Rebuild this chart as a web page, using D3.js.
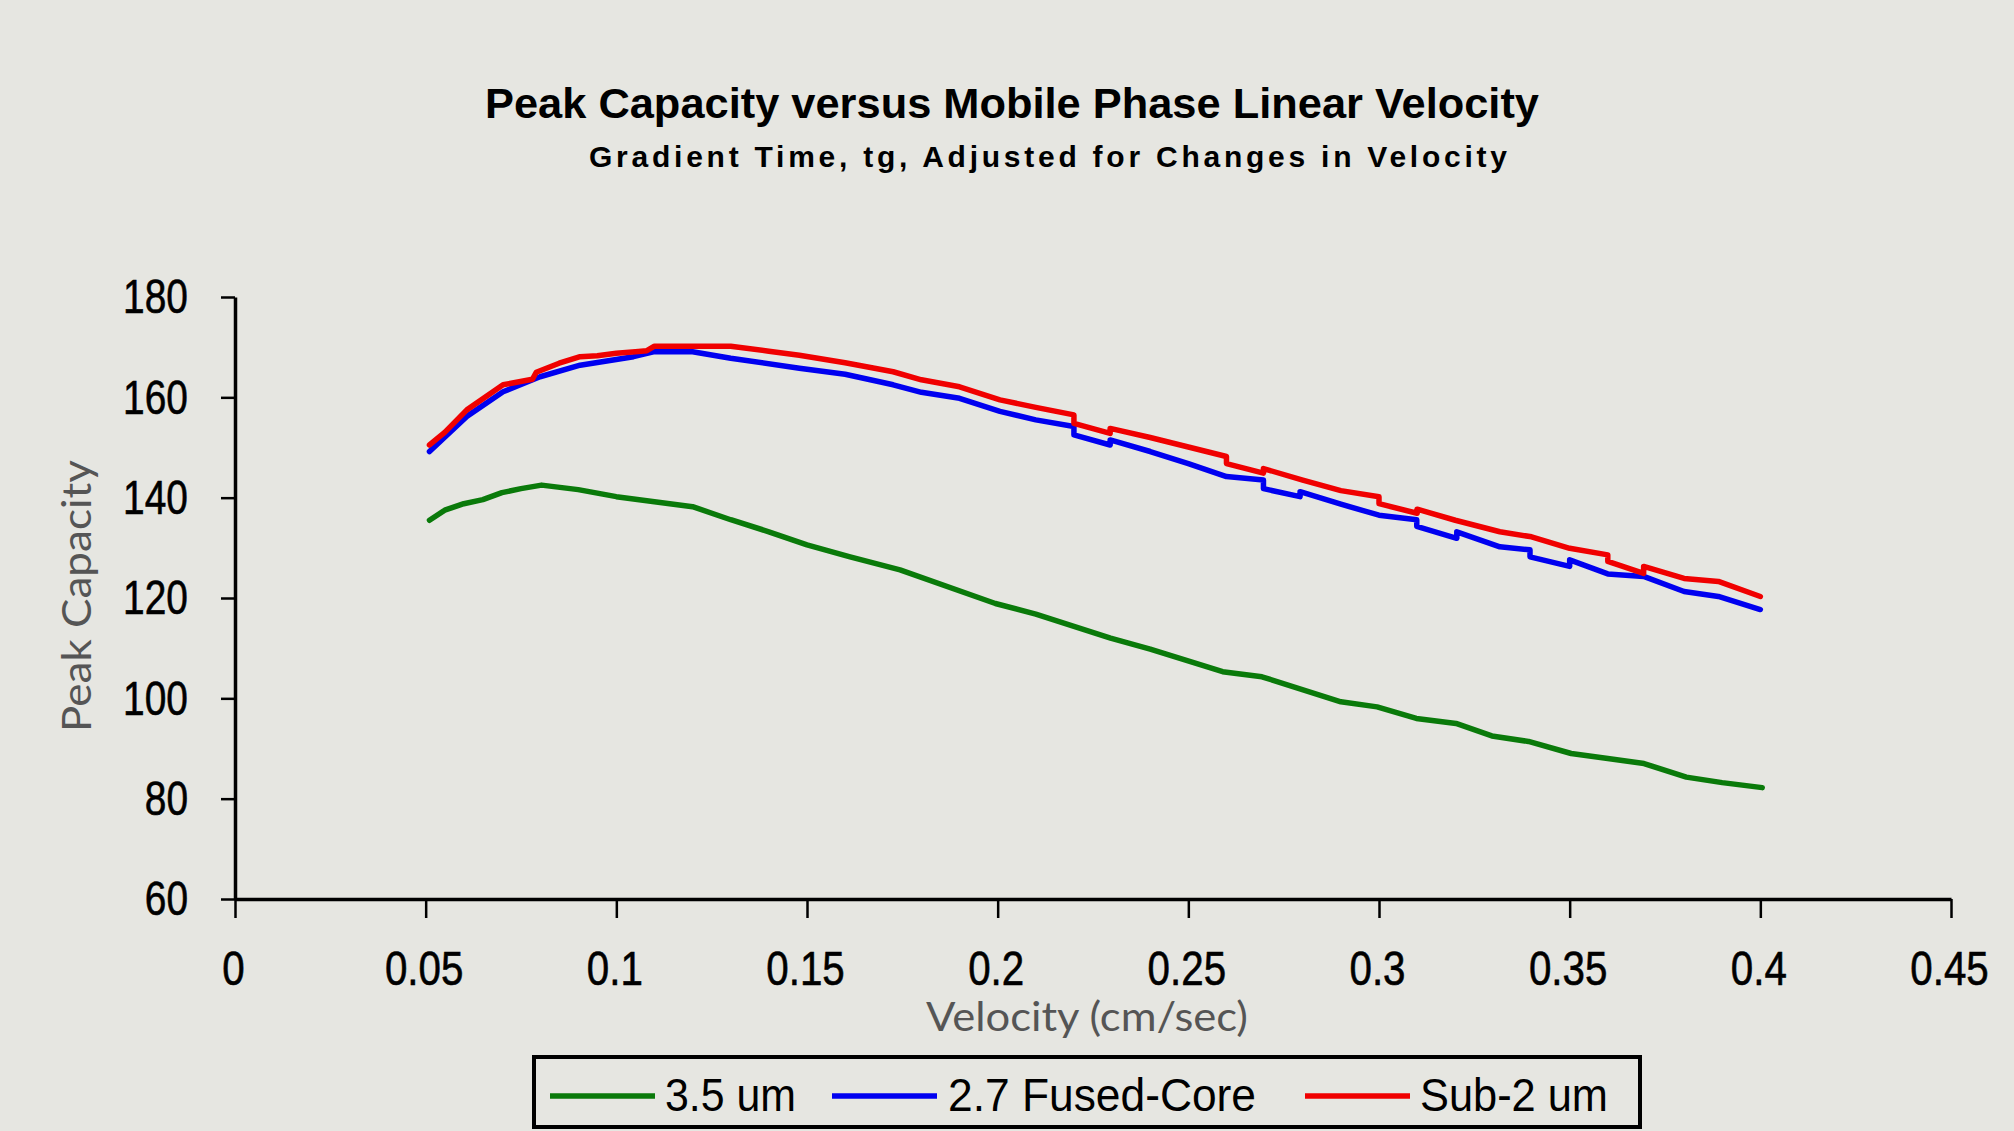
<!DOCTYPE html>
<html>
<head>
<meta charset="utf-8">
<script src="https://cdn.jsdelivr.net/npm/d3@7"></script>
<style>
  html, body { margin: 0; padding: 0; background: #e6e6e1; }
  svg { display: block; }
</style>
</head>
<body>
<svg id="chart" width="2014" height="1131"></svg>
<script>
// ---------------- DATA ----------------
const titleText = "Peak Capacity versus Mobile Phase Linear Velocity";
const subtitleText = "Gradient Time, tg, Adjusted for Changes in Velocity";
const xLabelText = "Velocity (cm/sec)";
const yLabelText = "Peak Capacity";

const seriesNames = ["3.5 um", "2.7 Fused-Core", "Sub-2 um"];

const xTicks = [0, 0.05, 0.1, 0.15, 0.2, 0.25, 0.3, 0.35, 0.4, 0.45];
const xTickLabels = ["0", "0.05", "0.1", "0.15", "0.2", "0.25", "0.3", "0.35", "0.4", "0.45"];
const yTicks = [60, 80, 100, 120, 140, 160, 180];

// 3.5 um (green)
const velocity35 = [0.051, 0.055, 0.06, 0.065, 0.07, 0.075, 0.0804, 0.09, 0.1, 0.11, 0.12, 0.13, 0.14, 0.15, 0.1613, 0.1744, 0.1994, 0.21, 0.2296, 0.24, 0.259, 0.2693, 0.29, 0.2995, 0.3098, 0.3202, 0.3296, 0.3392, 0.3504, 0.36, 0.3695, 0.3806, 0.39, 0.4005];
const peak35 = [135.5, 137.5, 138.8, 139.6, 141.0, 141.8, 142.5, 141.6, 140.2, 139.2, 138.2, 135.6, 133.2, 130.6, 128.2, 125.6, 118.9, 116.8, 112.0, 109.8, 105.3, 104.3, 99.3, 98.3, 96.0, 95.0, 92.5, 91.4, 89.0, 88.0, 87.0, 84.3, 83.2, 82.2];

// 2.7 Fused-Core (blue)
const velocity27 = [0.051, 0.0608, 0.0703, 0.08, 0.0905, 0.1045, 0.11, 0.12, 0.13, 0.148, 0.16, 0.1726, 0.18, 0.19, 0.2006, 0.21, 0.22, 0.22, 0.2295, 0.2295, 0.24, 0.25, 0.26, 0.2697, 0.2697, 0.2793, 0.2793, 0.29, 0.3, 0.3099, 0.3099, 0.3204, 0.3204, 0.3317, 0.3396, 0.3396, 0.35, 0.35, 0.36, 0.3694, 0.38, 0.389, 0.4];
const peak27 = [149.2, 156.2, 161.1, 164.1, 166.4, 168.1, 169.1, 169.1, 167.8, 165.8, 164.6, 162.5, 161.0, 159.8, 157.2, 155.5, 154.2, 152.5, 150.5, 151.5, 149.2, 146.8, 144.2, 143.5, 141.8, 140.2, 141.2, 138.7, 136.5, 135.6, 134.3, 131.9, 133.2, 130.2, 129.6, 128.2, 126.3, 127.6, 124.8, 124.3, 121.3, 120.3, 117.7];

// Sub-2 um (red)
const velocity2 = [0.051, 0.055, 0.0608, 0.0703, 0.078, 0.079, 0.085, 0.0905, 0.095, 0.1, 0.105, 0.108, 0.11, 0.13, 0.14, 0.148, 0.16, 0.1726, 0.18, 0.19, 0.2006, 0.21, 0.22, 0.22, 0.2295, 0.2295, 0.24, 0.25, 0.26, 0.26, 0.2697, 0.2697, 0.28, 0.29, 0.3, 0.3, 0.31, 0.31, 0.32, 0.3317, 0.34, 0.35, 0.36, 0.36, 0.3694, 0.3694, 0.38, 0.389, 0.4];
const peak2 = [150.5, 153.0, 157.5, 162.5, 163.6, 165.0, 166.8, 168.1, 168.3, 168.8, 169.1, 169.3, 170.2, 170.2, 169.2, 168.4, 166.9, 165.1, 163.5, 162.1, 159.5, 158.0, 156.5, 154.8, 152.8, 153.8, 152.0, 150.1, 148.2, 146.8, 144.9, 145.8, 143.5, 141.4, 140.2, 138.8, 136.9, 137.7, 135.5, 133.2, 132.2, 129.9, 128.6, 127.3, 124.9, 126.3, 123.9, 123.3, 120.3];

// ---------------- STYLE ----------------
const seriesColors = ["#0a7a0a", "#0000f0", "#f00000"];
const bg = "#e6e6e1";

// ---------------- CHART ----------------
const svg = d3.select("#chart");
svg.append("rect").attr("width", 2014).attr("height", 1131).attr("fill", bg);

const x = d3.scaleLinear().domain([0, 0.45]).range([235, 1951]);
const y = d3.scaleLinear().domain([60, 180]).range([899, 297]);

function condense(sel, k) {
  sel.each(function () {
    const w = this.getComputedTextLength();
    d3.select(this).attr("textLength", w * k).attr("lengthAdjust", "spacingAndGlyphs");
  });
}

// Title
svg.append("text")
  .attr("x", 485).attr("y", 118)
  .attr("font-family", "Liberation Sans, Arial, sans-serif")
  .attr("font-weight", "bold").attr("font-size", 43)
  .attr("fill", "#000")
  .attr("textLength", 1054).attr("lengthAdjust", "spacingAndGlyphs")
  .text(titleText);

svg.append("text")
  .attr("x", 589).attr("y", 167)
  .attr("font-family", "Liberation Sans, Arial, sans-serif")
  .attr("font-weight", "bold").attr("font-size", 30)
  .attr("fill", "#000")
  .attr("textLength", 918).attr("lengthAdjust", "spacing")
  .text(subtitleText);

// X axis
const xAxis = d3.axisBottom(x)
  .tickValues(xTicks)
  .tickFormat((d, i) => xTickLabels[i])
  .tickSizeInner(19).tickSizeOuter(0);
const gx = svg.append("g").attr("transform", "translate(0,899)").call(xAxis);
gx.select(".domain").attr("stroke", "#000").attr("stroke-width", 3.5);
gx.selectAll(".tick line").attr("stroke", "#000").attr("stroke-width", 2.5);
gx.selectAll(".tick text")
  .attr("fill", "#000")
  .attr("stroke", "#000").attr("stroke-width", 0.6)
  .attr("font-family", "Liberation Sans, Arial, sans-serif")
  .attr("font-size", 48)
  .attr("y", 86).attr("dy", 0)
  .attr("dx", -2);
condense(gx.selectAll(".tick text"), 0.84);

// Y axis
const yAxis = d3.axisLeft(y)
  .tickValues(yTicks)
  .tickSizeInner(14).tickSizeOuter(0);
const gy = svg.append("g").attr("transform", "translate(235,0)").call(yAxis);
gy.select(".domain").attr("stroke", "#000").attr("stroke-width", 3.5);
gy.selectAll(".tick line").attr("stroke", "#000").attr("stroke-width", 2.5);
gy.selectAll(".tick text")
  .attr("fill", "#000")
  .attr("stroke", "#000").attr("stroke-width", 0.6)
  .attr("font-family", "Liberation Sans, Arial, sans-serif")
  .attr("font-size", 48)
  .attr("x", -47).attr("dy", "0.33em");
condense(gy.selectAll(".tick text"), 0.81);
svg.selectAll(".domain").attr("fill", "none");

// Axis labels
svg.append("text")
  .attr("x", 1087).attr("y", 1031)
  .attr("text-anchor", "middle")
  .attr("font-family", "Lato, 'Open Sans', sans-serif")
  .attr("font-size", 40).attr("fill", "#555")
  .attr("textLength", 322).attr("lengthAdjust", "spacingAndGlyphs")
  .text(xLabelText);

svg.append("text")
  .attr("transform", "translate(91,596) rotate(-90)")
  .attr("text-anchor", "middle")
  .attr("font-family", "Lato, 'Open Sans', sans-serif")
  .attr("font-size", 40).attr("fill", "#555")
  .attr("textLength", 272).attr("lengthAdjust", "spacingAndGlyphs")
  .text(yLabelText);

// Lines
const series = [
  { name: seriesNames[0], xs: velocity35, ys: peak35, color: seriesColors[0] },
  { name: seriesNames[1], xs: velocity27, ys: peak27, color: seriesColors[1] },
  { name: seriesNames[2], xs: velocity2, ys: peak2, color: seriesColors[2] }
];
const line = d3.line().x(d => x(d[0])).y(d => y(d[1]));
series.forEach(s => {
  const pts = s.xs.map((v, i) => [v, s.ys[i]]);
  svg.append("path")
    .datum(pts)
    .attr("d", line)
    .attr("fill", "none")
    .attr("stroke", s.color)
    .attr("stroke-width", 5.5)
    .attr("stroke-linejoin", "round")
    .attr("stroke-linecap", "round");
});

// Legend
const legend = svg.append("g");
legend.append("rect")
  .attr("x", 534).attr("y", 1057).attr("width", 1106).attr("height", 70)
  .attr("fill", "none").attr("stroke", "#000").attr("stroke-width", 4);
const legItems = [
  { lx: 550, tx: 665, tw: 131 },
  { lx: 832, tx: 948, tw: 308 },
  { lx: 1305, tx: 1420, tw: 188 }
];
series.forEach((s, i) => {
  const it = legItems[i];
  legend.append("line")
    .attr("x1", it.lx).attr("x2", it.lx + 105)
    .attr("y1", 1096).attr("y2", 1096)
    .attr("stroke", s.color).attr("stroke-width", 5.5);
  legend.append("text")
    .attr("x", it.tx).attr("y", 1111)
    .attr("font-family", "Liberation Sans, Arial, sans-serif")
    .attr("font-size", 47).attr("fill", "#000")
    .attr("textLength", it.tw).attr("lengthAdjust", "spacingAndGlyphs")
    .text(s.name);
});
</script>
</body>
</html>
